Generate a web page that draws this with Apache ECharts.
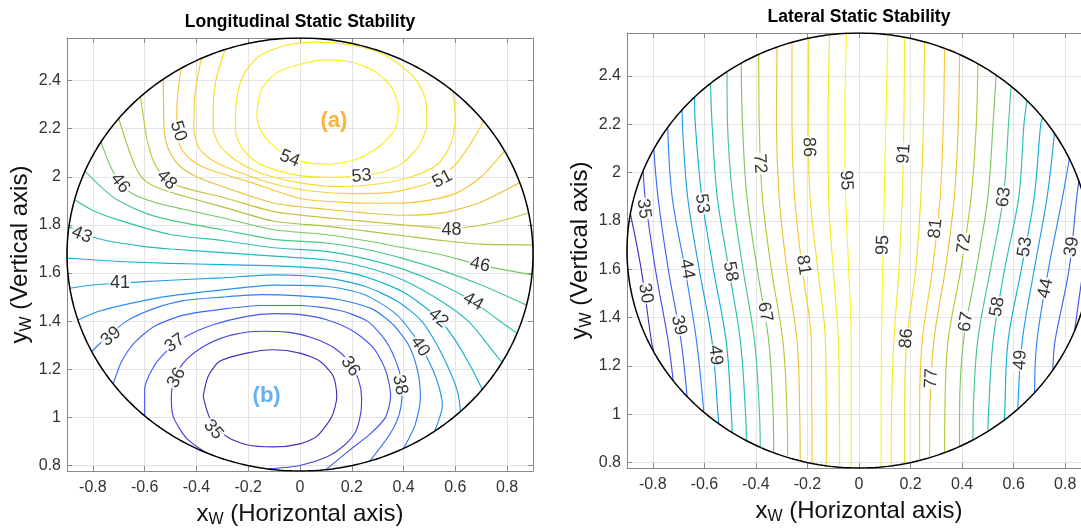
<!DOCTYPE html>
<html>
<head>
<meta charset="utf-8">
<script src="https://cdn.jsdelivr.net/npm/echarts@6.0.0/dist/echarts.min.js"></script>
<style>
html,body{margin:0;padding:0;background:#ffffff;}
#chart{width:1081px;height:530px;}
</style>
</head>
<body>
<div id="chart"></div>
<script>
// ================= DATA =================
const xTickValues = [-0.8, -0.6, -0.4, -0.2, 0, 0.2, 0.4, 0.6, 0.8];
const yTickValues = [0.8, 1, 1.2, 1.4, 1.6, 1.8, 2, 2.2, 2.4];

// ---- Longitudinal static stability: contour polylines [xw, yw] per level ----
const lonLevels = [35,36,37,38,39,40,41,42,43,44,45,46,47,48,49,50,51,52,53,54];
const lonClosedLevels = [35, 36, 53, 54];
const lon35 = [[-0.374,1.087],[-0.355,1.170],[-0.310,1.233],[-0.206,1.267],[-0.103,1.281],[0,1.267],[0.077,1.233],[0.129,1.170],[0.142,1.087],[0.123,1.004],[0.065,0.921],[0,0.890],[-0.103,0.877],[-0.206,0.886],[-0.284,0.921],[-0.348,0.997]];
const lon36 = [[-0.497,1.087],[-0.490,1.004],[-0.439,0.914],[-0.361,0.852],[-0.258,0.805],[-0.129,0.785],[0,0.80],[0.103,0.835],[0.167,0.88],[0.215,0.94],[0.235,1.02],[0.238,1.08],[0.225,1.16],[0.19,1.23],[0.13,1.29],[0.05,1.33],[-0.04,1.353],[-0.142,1.358],[-0.258,1.344],[-0.361,1.302],[-0.439,1.240],[-0.484,1.170]];
const lon37 = [[-0.602,1.004],[-0.6,1.115],[-0.568,1.205],[-0.516,1.274],[-0.439,1.337],[-0.335,1.385],[-0.206,1.42],[-0.103,1.431],[0,1.427],[0.103,1.406],[0.206,1.358],[0.284,1.288],[0.33,1.198],[0.35,1.09],[0.33,1.0],[0.27,0.93],[0.193,0.865],[0.1,0.783]];
const lon38 = [[-0.72,1.14],[-0.69,1.23],[-0.64,1.31],[-0.56,1.38],[-0.45,1.425],[-0.3,1.45],[-0.15,1.465],[0,1.465],[0.15,1.445],[0.26,1.40],[0.33,1.32],[0.375,1.22],[0.395,1.12],[0.385,1.02],[0.35,0.935],[0.27,0.818]];
const lon39 = [[-0.804,1.274],[-0.75,1.33],[-0.67,1.40],[-0.57,1.45],[-0.45,1.485],[-0.3,1.50],[-0.15,1.51],[0,1.505],[0.15,1.49],[0.28,1.45],[0.36,1.385],[0.42,1.30],[0.455,1.19],[0.465,1.08],[0.445,0.97],[0.40,0.871]];
const lon40 = [[-0.856,1.405],[-0.78,1.44],[-0.65,1.475],[-0.5,1.505],[-0.3,1.53],[-0.1,1.55],[0.1,1.545],[0.25,1.51],[0.37,1.43],[0.44,1.34],[0.49,1.25],[0.53,1.15],[0.55,1.05],[0.52,0.942]];
const lon41 = [[-0.888,1.537],[-0.8,1.55],[-0.695,1.558],[-0.5,1.57],[-0.3,1.58],[-0.1,1.592],[0.1,1.58],[0.25,1.545],[0.38,1.48],[0.47,1.40],[0.53,1.30],[0.58,1.19],[0.61,1.10],[0.62,1.025]];
const lon42 = [[-0.9,1.662],[-0.8,1.655],[-0.7,1.648],[-0.5,1.64],[-0.3,1.635],[-0.1,1.63],[0.1,1.617],[0.25,1.585],[0.4,1.52],[0.534,1.412],[0.6,1.32],[0.66,1.21],[0.704,1.116]];
const lon43 = [[-0.892,1.793],[-0.843,1.765],[-0.75,1.735],[-0.6,1.71],[-0.5,1.70],[-0.3,1.685],[-0.1,1.67],[0.1,1.655],[0.25,1.625],[0.4,1.57],[0.55,1.48],[0.65,1.40],[0.72,1.31],[0.78,1.228]];
const lon44 = [[-0.869,1.904],[-0.8,1.86],[-0.7,1.82],[-0.5,1.76],[-0.3,1.735],[-0.1,1.705],[0.1,1.69],[0.25,1.66],[0.4,1.615],[0.55,1.55],[0.669,1.481],[0.76,1.41],[0.837,1.35]];
const lon45 = [[-0.826,2.022],[-0.76,1.95],[-0.7,1.90],[-0.6,1.85],[-0.5,1.82],[-0.3,1.78],[-0.1,1.74],[0.1,1.725],[0.25,1.70],[0.4,1.66],[0.55,1.61],[0.7,1.55],[0.869,1.468]];
const lon46 = [[-0.772,2.147],[-0.735,2.05],[-0.695,1.973],[-0.64,1.925],[-0.55,1.89],[-0.45,1.865],[-0.3,1.83],[-0.1,1.78],[0.1,1.76],[0.25,1.735],[0.4,1.705],[0.55,1.675],[0.695,1.634],[0.888,1.593]];
const lon47 = [[-0.702,2.244],[-0.67,2.14],[-0.635,2.04],[-0.6,1.985],[-0.54,1.95],[-0.45,1.92],[-0.3,1.875],[-0.1,1.815],[0.1,1.795],[0.25,1.775],[0.4,1.755],[0.55,1.735],[0.7,1.72],[0.895,1.717]];
const lon48 = [[-0.618,2.334],[-0.605,2.25],[-0.59,2.15],[-0.56,2.05],[-0.515,1.99],[-0.45,1.955],[-0.3,1.915],[-0.1,1.855],[0.1,1.83],[0.25,1.815],[0.4,1.80],[0.585,1.785],[0.75,1.81],[0.882,1.849]];
const lon49 = [[-0.527,2.403],[-0.527,2.3],[-0.525,2.2],[-0.51,2.12],[-0.47,2.05],[-0.4,2.0],[-0.3,1.96],[-0.1,1.89],[0.1,1.865],[0.25,1.85],[0.4,1.84],[0.55,1.85],[0.7,1.895],[0.843,1.974]];
const lon50 = [[-0.46,2.45],[-0.475,2.3],[-0.476,2.2],[-0.46,2.12],[-0.42,2.07],[-0.35,2.03],[-0.2,1.98],[0,1.91],[0.15,1.895],[0.3,1.89],[0.45,1.895],[0.6,1.93],[0.7,2.0],[0.785,2.105]];
const lon51 = [[-0.38,2.49],[-0.405,2.35],[-0.41,2.2],[-0.39,2.12],[-0.34,2.07],[-0.25,2.025],[-0.1,1.97],[0.05,1.94],[0.2,1.93],[0.35,1.935],[0.5,1.975],[0.6,2.05],[0.66,2.14],[0.708,2.23]];
const lon52 = [[-0.29,2.53],[-0.325,2.4],[-0.335,2.3],[-0.335,2.2],[-0.31,2.13],[-0.25,2.07],[-0.15,2.015],[0,1.975],[0.15,1.96],[0.3,1.97],[0.43,2.0],[0.53,2.05],[0.58,2.13],[0.6,2.24],[0.592,2.357]];
const lon53 = [[0.238,2.003],[0.12,1.998],[0,2.005],[-0.1,2.03],[-0.18,2.07],[-0.23,2.13],[-0.25,2.2],[-0.245,2.32],[-0.22,2.42],[-0.16,2.5],[-0.06,2.545],[0.06,2.56],[0.18,2.55],[0.3,2.52],[0.38,2.47],[0.45,2.4],[0.485,2.32],[0.49,2.22],[0.46,2.13],[0.4,2.06],[0.32,2.02]];
const lon54 = [[0.116,2.052],[0.026,2.059],[-0.051,2.087],[-0.116,2.142],[-0.154,2.198],[-0.167,2.253],[-0.148,2.364],[-0.09,2.433],[0,2.468],[0.103,2.486],[0.206,2.475],[0.296,2.433],[0.354,2.371],[0.38,2.281],[0.367,2.198],[0.309,2.128],[0.219,2.073]];
// inline contour labels: [text, xw, yw, rotation deg]
const lonLabels = [
  ['50',-0.47,2.19,-72],['46',-0.695,1.973,-52],['48',-0.515,1.987,-45],['43',-0.843,1.759,-22],
  ['41',-0.695,1.558,0],['39',-0.73,1.336,40],['37',-0.483,1.308,35],['36',-0.477,1.164,62],
  ['35',-0.335,0.949,-50],['36',0.194,1.212,-55],['38',0.386,1.135,-78],['40',0.464,1.294,-55],
  ['42',0.534,1.412,-40],['44',0.669,1.481,-30],['46',0.695,1.634,-12],['48',0.585,1.78,0],
  ['51',0.55,1.99,28],['53',0.238,2.003,5],['54',-0.04,2.075,-22]
];

// ---- Lateral static stability: each level has a west and an east line ----
// x positions: [top (on circle), y=2.2, y=1.9, y=1.6, y=1.3, y=1.0, bottom (on circle)]
const latLevels = [30,35,39,44,49,53,58,63,67,72,77,81,86,91,95];
const latRowsY = [2.2, 1.9, 1.6, 1.3, 1.0];
const latWest = [
  [-0.887,null,null,-0.845,-0.805,null,-0.796],
  [-0.837,null,-0.83,-0.79,-0.74,null,-0.721],
  [-0.796,null,-0.78,-0.74,-0.69,null,-0.667],
  [-0.742,null,-0.725,-0.675,-0.63,null,-0.602],
  [-0.686,-0.685,-0.665,-0.62,-0.57,-0.547,-0.544],
  [-0.638,-0.635,-0.61,-0.565,-0.515,-0.495,-0.492],
  [-0.576,-0.57,-0.55,-0.505,-0.46,-0.44,-0.437],
  [-0.512,-0.51,-0.49,-0.45,-0.405,-0.386,-0.383],
  [-0.457,-0.452,-0.435,-0.395,-0.35,-0.333,-0.331],
  [-0.389,-0.387,-0.375,-0.34,-0.295,-0.279,-0.277],
  [-0.318,-0.32,-0.31,-0.28,-0.24,-0.23,-0.228],
  [-0.26,-0.26,-0.25,-0.22,-0.185,-0.183,-0.182],
  [-0.195,-0.197,-0.19,-0.16,-0.13,-0.127,-0.127],
  [-0.114,-0.12,-0.118,-0.1,-0.08,-0.076,-0.075],
  [-0.049,-0.055,-0.052,-0.04,-0.03,-0.03,-0.03]
];
const latEast = [
  null,
  [0.895,null,null,0.87,null,null,0.836],
  [0.853,null,0.845,0.815,0.76,null,0.752],
  [0.816,null,0.79,0.735,0.69,null,0.681],
  [0.758,null,0.73,0.68,0.633,null,0.616],
  [0.713,0.705,0.68,0.63,0.578,0.565,0.564],
  [0.652,0.64,0.62,0.565,0.52,0.502,0.5],
  [0.59,0.58,0.56,0.51,0.46,0.443,0.442],
  [0.532,0.52,0.5,0.455,0.405,0.39,0.39],
  [0.461,0.455,0.435,0.395,0.345,0.333,0.332],
  [0.39,0.385,0.37,0.335,0.29,0.275,0.274],
  [0.332,0.327,0.315,0.285,0.245,0.235,0.235],
  [0.254,0.25,0.24,0.22,0.185,0.177,0.177],
  [0.177,0.174,0.168,0.155,0.135,0.126,0.125],
  [0.112,0.104,0.098,0.092,0.087,0.086,0.086]
];
const latLabels = [
  ['35',-0.835,1.85,-82],['53',-0.609,1.871,-82],['72',-0.385,2.036,-86],['86',-0.195,2.105,-88],
  ['95',-0.05,1.967,-88],['30',-0.828,1.5,-80],['44',-0.668,1.6,-80],['58',-0.499,1.59,-80],
  ['39',-0.699,1.368,-78],['49',-0.557,1.244,-84],['67',-0.365,1.423,-80],['81',-0.216,1.617,-82],
  ['91',0.175,2.078,86],['95',0.093,1.699,88],['81',0.297,1.768,84],['72',0.408,1.706,83],
  ['63',0.562,1.898,82],['53',0.644,1.692,82],['39',0.826,1.692,80],['86',0.184,1.313,86],
  ['77',0.281,1.148,88],['67',0.415,1.382,80],['58',0.537,1.444,80],['49',0.626,1.224,86],['44',0.724,1.52,78]
];

// ================= GEOMETRY / STYLE =================
const CX = 0, CY = 1.677, R = 0.9;          // circular domain
const X_MIN = -0.9, X_MAX = 0.9, Y_MIN = 0.777, Y_MAX = 2.577;
const FONT = '"Liberation Sans", Arial, Helvetica, sans-serif';
const AXIS_COLOR = '#8a8a8a', TICK_COLOR = '#333333', GRID_COLOR = '#e4e4e4', NAME_COLOR = '#111111';

const PARULA = [
  [0.000,[62,38,168]],[0.111,[72,82,244]],[0.238,[46,135,247]],[0.365,[18,177,214]],
  [0.492,[55,200,151]],[0.619,[171,199,57]],[0.746,[252,192,58]],[0.873,[245,225,40]],[1.000,[249,251,21]]
];
function parula(t){
  t = Math.max(0, Math.min(1, t));
  for (let i = 1; i < PARULA.length; i++) {
    if (t <= PARULA[i][0]) {
      const a = PARULA[i-1], b = PARULA[i], f = (t - a[0]) / (b[0] - a[0]);
      const c = a[1].map((v,k) => Math.round(v + f * (b[1][k] - v)));
      return 'rgb(' + c.join(',') + ')';
    }
  }
  return 'rgb(249,251,21)';
}

function inside(p){ return (p[0]-CX)*(p[0]-CX) + (p[1]-CY)*(p[1]-CY) <= R*R + 1e-7; }
function snap(p){ const dx=p[0]-CX, dy=p[1]-CY, d=Math.sqrt(dx*dx+dy*dy); return [CX+R*dx/d, CY+R*dy/d]; }
function crossT(q,p){
  const dx=p[0]-q[0], dy=p[1]-q[1], fx=q[0]-CX, fy=q[1]-CY;
  const a=dx*dx+dy*dy, b=2*(fx*dx+fy*dy), c=fx*fx+fy*fy-R*R;
  const disc=Math.sqrt(Math.max(0,b*b-4*a*c));
  const t1=(-b-disc)/(2*a), t2=(-b+disc)/(2*a);
  return (t1>=0 && t1<=1) ? t1 : t2;
}
function clipToCircle(pts, closed){
  const segs=[]; let cur=[];
  for (let i=0;i<pts.length;i++){
    const p=pts[i];
    if (i>0){
      const q=pts[i-1], a=inside(q), b=inside(p);
      if (a!==b){
        const t=crossT(q,p), ip=[q[0]+t*(p[0]-q[0]), q[1]+t*(p[1]-q[1])];
        if (a){ cur.push(ip); segs.push(cur); cur=[]; } else { cur=[ip]; }
      }
    }
    if (inside(p)) cur.push(p);
  }
  if (cur.length>1) segs.push(cur);
  if (closed && segs.length>1 && inside(pts[0])) {
    const last = segs.pop(); segs[0] = last.concat(segs[0].slice(1));
  }
  return segs;
}

const series = [];
function addLine(axisIdx, pts, color, smooth){
  series.push({
    type:'line', xAxisIndex:axisIdx, yAxisIndex:axisIdx, data:pts,
    showSymbol:false, symbol:'none', smooth:smooth, silent:true, animation:false, z:2,
    lineStyle:{color:color, width:1.15}
  });
}

// Longitudinal contours
const lonData = {35:lon35,36:lon36,37:lon37,38:lon38,39:lon39,40:lon40,41:lon41,42:lon42,43:lon43,44:lon44,
  45:lon45,46:lon46,47:lon47,48:lon48,49:lon49,50:lon50,51:lon51,52:lon52,53:lon53,54:lon54};
lonLevels.forEach(lv => {
  const closed = lonClosedLevels.indexOf(lv) >= 0;
  let pts = lonData[lv].map(p => p.slice());
  if (closed) pts.push(pts[0].slice());
  else { pts[0] = snap(pts[0]); pts[pts.length-1] = snap(pts[pts.length-1]); }
  const color = parula((lv - 34.5) / (55 - 34.5));
  clipToCircle(pts, closed).forEach(seg => addLine(0, seg, color, 0.25));
});

// Lateral contours
function latLine(arr){
  const top = [arr[0], CY + Math.sqrt(R*R - arr[0]*arr[0])];
  const bot = [arr[6], CY - Math.sqrt(R*R - arr[6]*arr[6])];
  const pts = [top];
  latRowsY.forEach((y,i) => { const x = arr[i+1]; if (x !== null && y < top[1] && y > bot[1]) pts.push([x,y]); });
  pts.push(bot);
  return pts;
}
latLevels.forEach((lv, i) => {
  const color = parula((lv - 28) / (96.5 - 28));
  [latWest[i], latEast[i]].forEach(arr => {
    if (!arr) return;
    clipToCircle(latLine(arr), false).forEach(seg => addLine(2, seg, color, 0.35));
  });
});

// Circle boundaries
function circlePts(){ const a=[]; for (let k=0;k<=360;k++){ const t=k*Math.PI/180; a.push([CX+R*Math.cos(t), CY+R*Math.sin(t)]); } return a; }
[0,2].forEach(ax => series.push({type:'line', xAxisIndex:ax, yAxisIndex:ax, data:circlePts(), showSymbol:false,
  symbol:'none', silent:true, animation:false, z:4, lineStyle:{color:'#000', width:1.5}}));

// Contour labels
function labelSeries(ax, list){
  return {type:'scatter', xAxisIndex:ax, yAxisIndex:ax, symbolSize:1, silent:true, animation:false, z:6,
    itemStyle:{color:'rgba(0,0,0,0)'},
    data:list.map(l => ({name:l[0], value:[l[1], l[2]], label:{rotate:l[3]}})),
    label:{show:true, position:'inside', formatter:'{b}', fontSize:18, fontFamily:FONT, color:'#000',
      backgroundColor:'#ffffff', padding:[0,1], lineHeight:14}};
}
series.push(labelSeries(0, lonLabels));
series.push(labelSeries(2, latLabels));

// (a) / (b) annotations
series.push({type:'scatter', xAxisIndex:0, yAxisIndex:0, symbolSize:1, silent:true, animation:false, z:6,
  itemStyle:{color:'rgba(0,0,0,0)'},
  data:[
    {name:'(a)', value:[0.131,2.232], label:{color:'#f5a30c'}},
    {name:'(b)', value:[-0.129,1.087], label:{color:'#3d9df2'}}
  ],
  label:{show:true, position:'inside', formatter:'{b}', fontSize:22, fontWeight:'bold', fontFamily:FONT}});

// ================= AXES =================
const NAME_STYLE = {fontFamily:FONT, fontSize:24, color:NAME_COLOR,
  rich:{i:{fontFamily:FONT, fontSize:24, color:NAME_COLOR}, s:{fontFamily:FONT, fontSize:16, color:NAME_COLOR, padding:[12,0,0,0]}}};
function xAxes(gridIndex){
  return [
    {type:'value', gridIndex, position:'bottom', min:X_MIN, max:X_MAX,
     axisLine:{show:true, onZero:false, lineStyle:{color:AXIS_COLOR, width:1}},
     axisTick:{show:true, inside:true, length:5, customValues:xTickValues, lineStyle:{color:AXIS_COLOR}},
     axisLabel:{show:true, customValues:xTickValues, margin:9, fontSize:16, fontFamily:FONT, color:TICK_COLOR},
     splitLine:{show:true, lineStyle:{color:GRID_COLOR, width:1}},
     name:'{i|x}{s|W}{i| (Horizontal axis)}', nameLocation:'middle', nameGap:29, nameTextStyle:NAME_STYLE},
    {type:'value', gridIndex, position:'top', min:X_MIN, max:X_MAX,
     axisLine:{show:true, onZero:false, lineStyle:{color:AXIS_COLOR, width:1}},
     axisTick:{show:true, inside:true, length:5, customValues:xTickValues, lineStyle:{color:AXIS_COLOR}},
     axisLabel:{show:false}, splitLine:{show:false}}
  ];
}
function yAxes(gridIndex){
  return [
    {type:'value', gridIndex, position:'left', min:Y_MIN, max:Y_MAX,
     axisLine:{show:true, onZero:false, lineStyle:{color:AXIS_COLOR, width:1}},
     axisTick:{show:true, inside:true, length:5, customValues:yTickValues, lineStyle:{color:AXIS_COLOR}},
     axisLabel:{show:true, customValues:yTickValues, margin:6, fontSize:16, fontFamily:FONT, color:TICK_COLOR},
     splitLine:{show:true, lineStyle:{color:GRID_COLOR, width:1}},
     name:'{i|y}{s|W}{i| (Vertical axis)}', nameLocation:'middle', nameRotate:90, nameGap:32, nameTextStyle:NAME_STYLE},
    {type:'value', gridIndex, position:'right', min:Y_MIN, max:Y_MAX,
     axisLine:{show:true, onZero:false, lineStyle:{color:AXIS_COLOR, width:1}},
     axisTick:{show:true, inside:true, length:5, customValues:yTickValues, lineStyle:{color:AXIS_COLOR}},
     axisLabel:{show:false}, splitLine:{show:false}}
  ];
}

const chart = echarts.init(document.getElementById('chart'), null, {renderer:'canvas'});
chart.setOption({
  backgroundColor:'#ffffff',
  animation:false,
  grid:[
    {left:67, top:38, width:466, height:433, containLabel:false, outerBoundsMode:'none'},
    {left:627, top:33, width:464, height:435, containLabel:false, outerBoundsMode:'none'}
  ],
  xAxis: xAxes(0).concat(xAxes(1)),
  yAxis: yAxes(0).concat(yAxes(1)),
  graphic:[
    {type:'text', x:300, y:22, silent:true, style:{text:'Longitudinal Static Stability', fontFamily:FONT, fontWeight:'bold', fontSize:17.5, fill:'#000', align:'center', verticalAlign:'middle'}},
    {type:'text', x:859, y:17.5, silent:true, style:{text:'Lateral Static Stability', fontFamily:FONT, fontWeight:'bold', fontSize:17.5, fill:'#000', align:'center', verticalAlign:'middle'}}
  ],
  series: series
});
</script>
</body>
</html>
